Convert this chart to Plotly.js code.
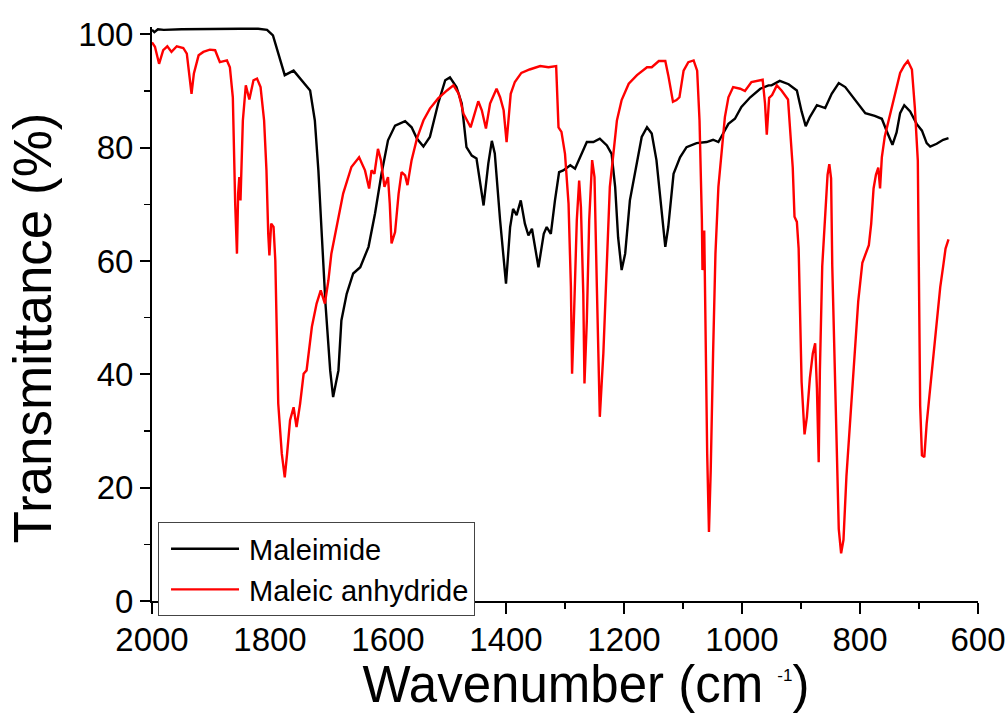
<!DOCTYPE html>
<html>
<head>
<meta charset="utf-8">
<script src="https://cdn.plot.ly/plotly-3.0.1.min.js"></script>
<style>
  html, body { margin: 0; padding: 0; background: #fff; }
  #chart { width: 1008px; height: 713px; }
</style>
</head>
<body>
<div id="chart"></div>
<script>
// Maleimide spectrum (wavenumber cm-1, transmittance %)
const maleimideWavenumber = [2000, 1996, 1990, 1980, 1950, 1900, 1850, 1820, 1805, 1795, 1786, 1775, 1760, 1744, 1732, 1724, 1718, 1712, 1706, 1698, 1693, 1684, 1679, 1670, 1659, 1647, 1633, 1622, 1611, 1600, 1588, 1571, 1560, 1551, 1540, 1529, 1515, 1503, 1495, 1484, 1475, 1467, 1458, 1450, 1438, 1430, 1424, 1419, 1410, 1400, 1393, 1388, 1382, 1375, 1368, 1362, 1356, 1345, 1336, 1331, 1324, 1317, 1310, 1303, 1291, 1283, 1275, 1263, 1252, 1241, 1229, 1221, 1215, 1210, 1204, 1198, 1190, 1178, 1170, 1161, 1153, 1145, 1136, 1130, 1125, 1116, 1105, 1094, 1077, 1060, 1049, 1040, 1032, 1023, 1012, 1001, 986, 969, 955, 950, 936, 921, 907, 899, 892, 885, 873, 859, 848, 836, 825, 814, 803, 791, 775, 763, 755, 745, 738, 732, 725, 715, 704, 695, 687, 681, 670, 659, 650];
const maleimideT = [100.8, 100.4, 100.9, 100.8, 100.9, 101.0, 101.0, 101.0, 100.8, 99.8, 96.6, 92.8, 93.6, 91.6, 90.1, 84.8, 76.0, 64.2, 52.5, 40.7, 36.0, 40.7, 49.5, 54.2, 57.8, 58.9, 62.5, 68.4, 75.4, 81.3, 83.9, 84.7, 83.6, 81.6, 80.2, 81.9, 87.8, 91.9, 92.4, 90.7, 87.8, 80.1, 78.6, 78.1, 69.8, 77.2, 81.2, 79.0, 67.2, 56.0, 66.0, 69.2, 68.1, 70.7, 66.6, 64.5, 65.7, 58.9, 64.8, 66.0, 64.8, 70.7, 75.7, 76.0, 76.9, 76.3, 78.3, 81.0, 81.0, 81.6, 80.4, 78.9, 73.1, 64.2, 58.4, 61.3, 70.7, 77.8, 81.9, 83.6, 82.5, 77.8, 68.4, 62.5, 66.0, 75.4, 78.3, 80.1, 80.8, 81.0, 81.4, 81.0, 82.5, 84.2, 85.1, 87.2, 88.9, 90.4, 91.0, 91.0, 91.8, 91.2, 90.1, 86.4, 83.8, 85.4, 87.5, 87.0, 89.5, 91.4, 90.7, 89.2, 87.9, 86.1, 85.6, 85.1, 83.0, 80.5, 82.7, 86.1, 87.5, 86.4, 84.2, 83.0, 80.8, 80.2, 80.7, 81.4, 81.7];

// Maleic anhydride spectrum
const anhydrideWavenumber = [2000, 1995, 1988, 1981, 1974, 1967, 1958, 1947, 1941, 1937, 1933, 1929, 1921, 1913, 1902, 1893, 1885, 1873, 1868, 1863, 1861, 1859, 1856, 1854, 1852, 1850, 1846, 1841, 1835, 1828, 1822, 1816, 1810, 1806, 1803, 1801, 1798, 1794, 1791, 1789, 1786, 1780, 1775, 1771, 1766, 1760, 1755, 1749, 1743, 1738, 1729, 1721, 1714, 1707, 1701, 1696, 1687, 1676, 1662, 1649, 1639, 1632, 1628, 1623, 1617, 1612, 1606, 1600, 1597, 1594, 1588, 1582, 1577, 1571, 1567, 1560, 1551, 1540, 1529, 1515, 1500, 1489, 1480, 1472, 1460, 1452, 1447, 1441, 1434, 1427, 1416, 1410, 1404, 1399, 1396, 1392, 1385, 1374, 1360, 1342, 1328, 1315, 1311, 1306, 1300, 1294, 1290, 1288, 1285, 1280, 1276, 1273, 1269, 1267, 1263, 1259, 1254, 1250, 1246, 1241, 1235, 1229, 1224, 1218, 1212, 1204, 1192, 1178, 1161, 1153, 1141, 1130, 1125, 1117, 1111, 1106, 1099, 1091, 1082, 1076, 1072, 1068, 1067, 1064, 1062, 1059, 1056, 1053, 1049, 1045, 1040, 1034, 1029, 1023, 1015, 1003, 995, 984, 973, 965, 961, 958, 954, 949, 941, 933, 922, 919, 914, 911, 907, 904, 901, 899, 894, 890, 885, 880, 876, 873, 870, 868, 864, 859, 855, 852, 849, 847, 843, 839, 836, 832, 828, 823, 815, 810, 803, 796, 789, 785, 781, 777, 773, 769, 766, 763, 758, 749, 741, 732, 725, 719, 712, 707, 702, 700, 698, 695, 691, 687, 681, 676, 670, 664, 659, 655, 650];
const anhydrideT = [98.6, 97.8, 94.8, 97.2, 97.9, 96.9, 97.9, 97.6, 96.6, 92.5, 89.5, 93.1, 96.3, 96.9, 97.3, 97.2, 95.1, 95.4, 94.2, 88.9, 78.9, 70.1, 61.3, 71.9, 74.8, 70.7, 84.8, 91.0, 88.5, 91.9, 92.2, 90.7, 84.8, 76.0, 64.8, 61.0, 66.6, 66.0, 60.1, 46.6, 34.8, 26.0, 21.8, 26.0, 31.9, 34.2, 30.7, 34.8, 40.1, 40.7, 48.4, 52.5, 54.8, 52.5, 56.6, 61.3, 66.0, 71.9, 76.6, 78.3, 76.0, 72.8, 76.0, 75.4, 79.8, 77.8, 73.1, 74.8, 70.1, 63.1, 65.1, 71.9, 75.7, 75.1, 73.4, 77.8, 81.6, 84.8, 86.9, 88.7, 90.1, 91.0, 89.5, 86.0, 83.6, 86.3, 88.2, 86.6, 83.4, 87.8, 90.4, 88.9, 86.6, 81.0, 85.4, 89.5, 91.6, 93.2, 93.8, 94.4, 94.2, 94.4, 83.6, 82.8, 78.9, 70.1, 55.4, 40.1, 49.5, 67.2, 74.2, 69.5, 54.2, 38.4, 49.5, 67.2, 77.8, 74.8, 55.4, 32.5, 43.7, 61.3, 73.1, 78.9, 84.8, 88.4, 91.3, 92.8, 94.2, 94.2, 95.3, 95.3, 92.8, 88.1, 88.4, 88.9, 93.6, 95.1, 95.4, 93.6, 84.8, 67.2, 58.4, 65.4, 49.5, 26.0, 12.2, 23.1, 43.7, 61.3, 73.1, 80.1, 85.4, 88.9, 90.7, 90.4, 90.0, 91.6, 91.9, 92.0, 87.8, 82.3, 88.8, 89.3, 91.0, 90.1, 88.5, 83.9, 76.5, 67.8, 66.9, 62.2, 49.8, 38.7, 29.4, 32.5, 39.3, 43.7, 45.5, 37.5, 24.5, 40.6, 59.1, 68.4, 75.2, 77.1, 74.6, 59.1, 40.6, 22.0, 12.7, 8.4, 10.8, 22.0, 34.4, 43.7, 52.9, 59.7, 61.6, 62.8, 66.6, 72.8, 75.2, 76.5, 72.8, 78.3, 82.0, 85.8, 89.2, 93.2, 94.5, 95.3, 93.8, 87.0, 77.7, 52.9, 34.4, 25.7, 25.4, 31.3, 37.5, 43.7, 49.8, 55.4, 59.1, 62.2, 63.8];

const seriesNames = ["Maleimide", "Maleic anhydride"];
const xTickValues = [2000, 1800, 1600, 1400, 1200, 1000, 800, 600];
const yTickValues = [0, 20, 40, 60, 80, 100];

const FONT = "'Liberation Sans', Arial, sans-serif";

const traces = [
  { x: maleimideWavenumber, y: maleimideT, name: seriesNames[0], type: "scatter", mode: "lines",
    line: { color: "#000000", width: 2.4 } },
  { x: anhydrideWavenumber, y: anhydrideT, name: seriesNames[1], type: "scatter", mode: "lines",
    line: { color: "#ff0000", width: 2.4 } }
];

const layout = {
  width: 1008, height: 713,
  margin: { l: 152, r: 30, t: 27, b: 112 },
  paper_bgcolor: "#ffffff", plot_bgcolor: "#ffffff",
  font: { family: FONT, color: "#000000" },
  showlegend: true,
  legend: {
    x: 0.0073, y: 0.137, xanchor: "left", yanchor: "top",
    bordercolor: "#444444", borderwidth: 1, bgcolor: "#ffffff",
    font: { family: FONT, size: 29, color: "#000000" },
    itemwidth: 80, tracegroupgap: 0
  },
  xaxis: {
    range: [2000, 600], tickvals: xTickValues, ticktext: xTickValues.map(String),
    ticks: "outside", ticklen: 11, tickwidth: 2, tickcolor: "#000",
    showline: true, linewidth: 2, linecolor: "#000", mirror: false,
    showgrid: false, zeroline: false, ticklabelstandoff: -3,
    tickfont: { family: FONT, size: 33, color: "#000" },
    minor: { ticks: "outside", ticklen: 6, tickwidth: 1.5, tickcolor: "#000", dtick: 100, tick0: 0, showgrid: false },
    title: { text: "Wavenumber (cm <sup><span style=\"font-size:17px\">-1</span></sup>)", font: { family: FONT, size: 51, color: "#000" }, standoff: 10 }
  },
  yaxis: {
    range: [0, 101.3], tickvals: yTickValues, ticktext: yTickValues.map(String),
    ticks: "outside", ticklen: 10, tickwidth: 2, tickcolor: "#000",
    showline: true, linewidth: 2, linecolor: "#000", mirror: false,
    showgrid: false, zeroline: false,
    tickfont: { family: FONT, size: 33, color: "#000" },
    minor: { ticks: "outside", ticklen: 6, tickwidth: 1.5, tickcolor: "#000", dtick: 10, tick0: 0, showgrid: false },
    title: { text: "Transmittance (%)", font: { family: FONT, size: 53, color: "#000" }, standoff: 10 }
  }
};

Plotly.newPlot("chart", traces, layout, { staticPlot: true, displayModeBar: false }).then(function () {
  document.querySelectorAll(".legendlines path").forEach(function (p) {
    p.setAttribute("d", "M12,0h68");
  });
  // nudge axis titles to the reference's off-centre positions
  document.querySelectorAll("text.xtitle").forEach(function (t) {
    const tr = t.getAttribute("transform") || "";
    t.setAttribute("transform", "translate(21,0) " + tr);
  });
  document.querySelectorAll("text.ytitle").forEach(function (t) {
    const tr = t.getAttribute("transform") || "";
    t.setAttribute("transform", "translate(0,14) " + tr);
  });
});
</script>
</body>
</html>
